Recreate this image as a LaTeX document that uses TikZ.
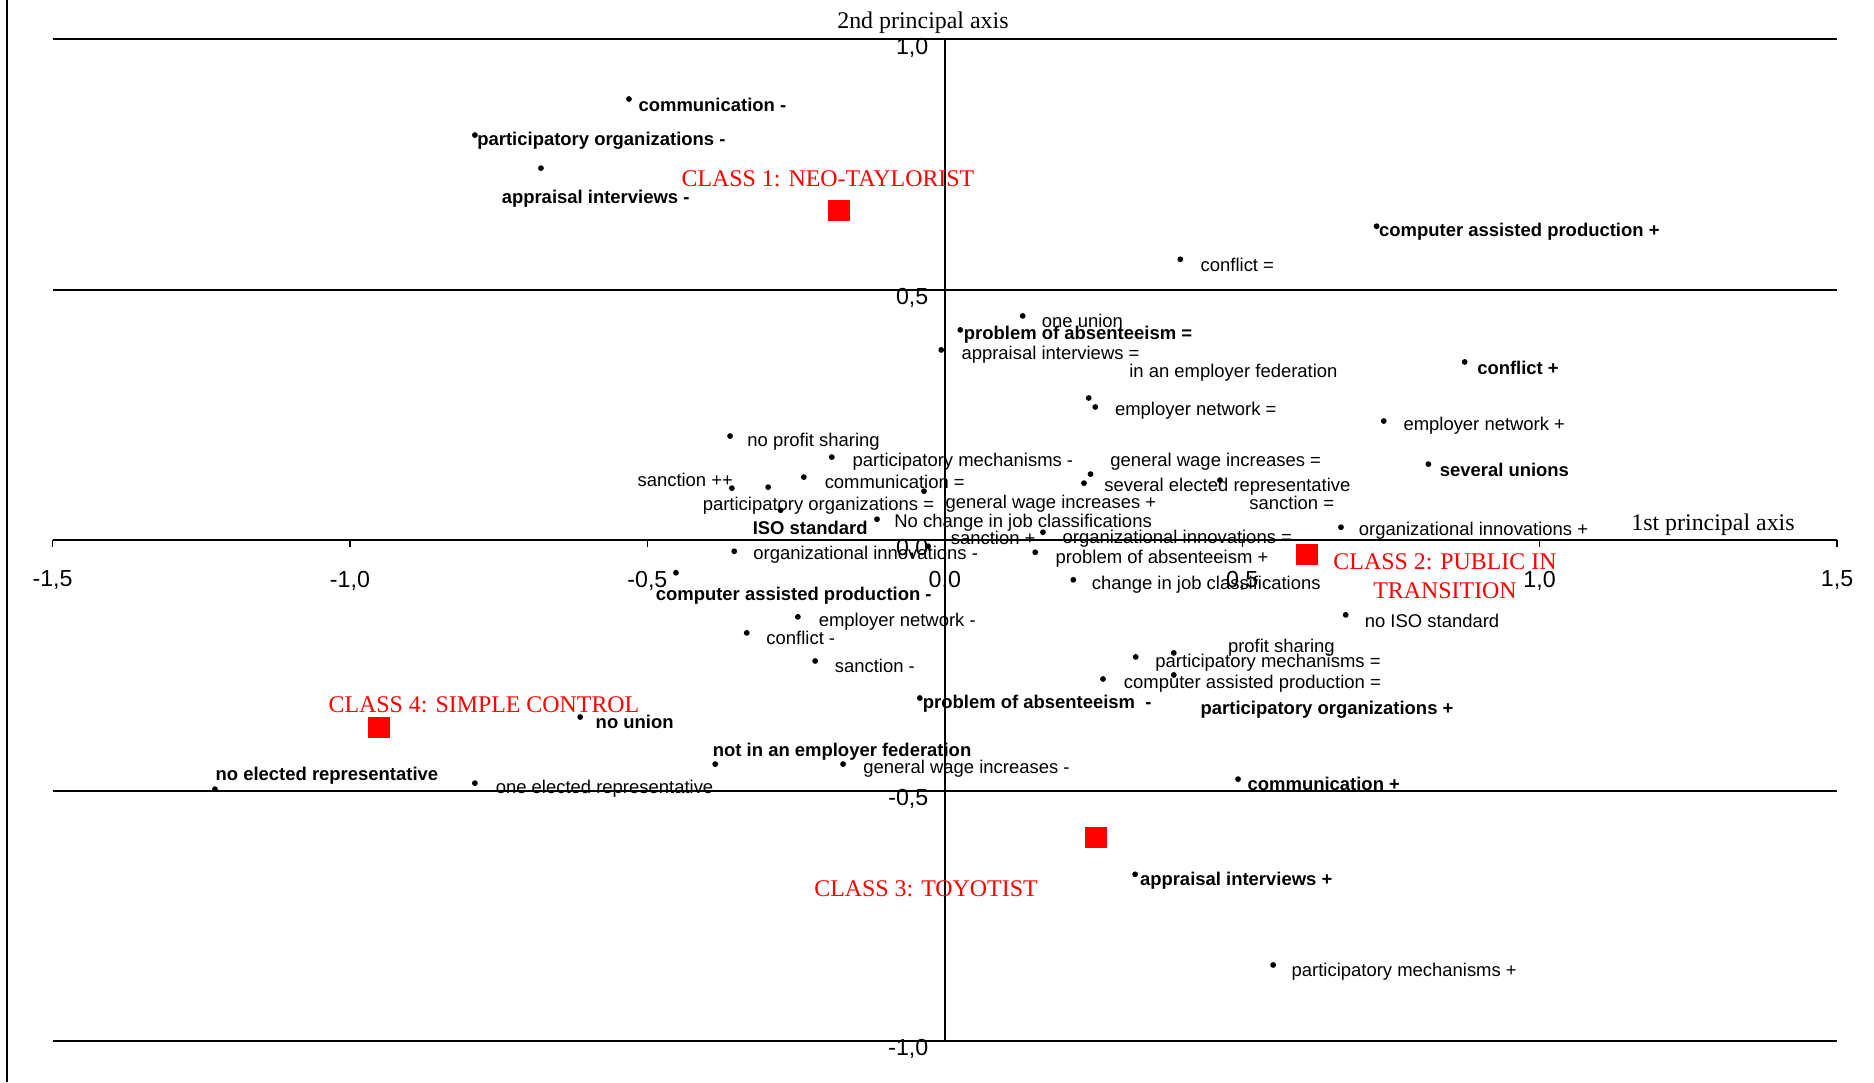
\documentclass[tikz,border=0pt]{standalone}
\usepackage{fontspec}
\setmainfont{Liberation Serif}
\setsansfont{Liberation Sans}
\usepackage{tikz}

\begin{document}
\begin{tikzpicture}[x=5.948cm, y=5.008cm,
    dot/.style={circle, fill=black, inner sep=0pt, minimum size=0.058cm},
    lbl/.style={anchor=west, inner sep=0pt, font=\sffamily\fontsize{5.25}{6.3}\selectfont},
    blbl/.style={lbl, font=\sffamily\bfseries\fontsize{5.25}{6.3}\selectfont},
    num/.style={inner sep=0pt, font=\sffamily\fontsize{6.6}{7.8}\selectfont},
    classbox/.style={fill=red, inner sep=0pt, minimum width=0.22cm, minimum height=0.21cm},
    classlbl/.style={text=red, inner sep=0pt, align=center, font=\fontsize{6.8}{8.2}\selectfont},
    axtitle/.style={inner sep=0pt, font=\fontsize{6.8}{8.2}\selectfont},
    gridline/.style={line width=0.6pt}]
        \useasboundingbox (-1.5884,-1.0819) rectangle (1.5622,1.0787);

        % Frame and grid
        \draw[gridline] (-1.577,-1.0819) -- (-1.577,1.0787);
        \foreach \y in {-1,-0.5,0,0.5,1}
            \draw[gridline] (-1.5,\y) -- (1.5,\y);
        \draw[line width=0.4pt] (0,-1) -- (0,1);

        % Ticks and values
        \foreach \x/\t in {-1.5/{-1,5}, -1/{-1,0}, -0.5/{-0,5}, 0/{0,0}, 0.5/{0,5}, 1/{1,0}, 1.5/{1,5}} {
            \draw[line width=0.4pt] (\x,0) -- (\x,-0.014);
            \node[num, anchor=north] at (\x,-0.06) {\t};
        }
        \foreach \y/\t in {1/{1,0}, 0.5/{0,5}, 0/{0,0}, -0.5/{-0,5}, -1/{-1,0}} {
            \draw[line width=0.4pt] (0,\y) -- (-0.012,\y);
            \node[num, anchor=north east] at (-0.0266,\y+0.004) {\t};
        }

        % Axis titles
        \node[axtitle] (ax2) at (-0.0367,1.034) {2nd principal axis};
        \node[axtitle] (ax1) at (1.2915,0.0315) {1st principal axis};

        % Upper half
        \node[dot] (commM) at (-0.531,0.881) {};   \node[blbl] (commMt) at (-0.516,0.869) {communication -};
        \node[dot] (porgM) at (-0.790,0.809) {};   \node[blbl] (porgMt) at (-0.787,0.797) {participatory organizations -};
        \node[dot] (apprM) at (-0.679,0.743) {};   \node[blbl] (apprMt) at (-0.746,0.681) {appraisal interviews -};
        \node[dot] (capP) at (0.726,0.627) {};     \node[blbl] (capPt) at (0.729,0.617) {computer assisted production +};
        \node[dot] (confE) at (0.396,0.561) {};    \node[lbl] (confEt) at (0.429,0.550) {conflict =};
        \node[dot] (oneU) at (0.131,0.448) {};     \node[lbl] (oneUt) at (0.162,0.438) {one union};
        \node[dot] (absE) at (0.026,0.420) {};     \node[blbl] (absEt) at (0.031,0.410) {problem of absenteeism =};
        \node[dot] (apprE) at (-0.006,0.380) {};   \node[lbl] (apprEt) at (0.027,0.370) {appraisal interviews =};
        \node[dot] (fedIn) at (0.242,0.284) {};    \node[lbl] (fedInt) at (0.309,0.334) {in an employer federation};
        \node[dot] (netE) at (0.253,0.266) {};     \node[lbl] (netEt) at (0.285,0.258) {employer network =};
        \node[dot] (confP) at (0.874,0.356) {};    \node[blbl] (confPt) at (0.894,0.344) {conflict +};
        \node[dot] (netP) at (0.738,0.238) {};     \node[lbl] (netPt) at (0.770,0.228) {employer network +};
        \node[dot] (sevU) at (0.813,0.152) {};     \node[blbl] (sevUt) at (0.831,0.140) {several unions};
        \node[dot] (wageE) at (0.245,0.132) {};    \node[lbl] (wageEt) at (0.277,0.156) {general wage increases =};
        \node[dot] (elecS) at (0.234,0.114) {};    \node[lbl] (elecSt) at (0.267,0.106) {several elected representative};
        \node[dot] (sancE) at (0.4625,0.120) {};   \node[lbl] (sancEt) at (0.511,0.074) {sanction =};
        \node[dot] (profN) at (-0.361,0.208) {};   \node[lbl] (profNt) at (-0.333,0.196) {no profit sharing};
        \node[dot] (mechM) at (-0.190,0.166) {};   \node[lbl] (mechMt) at (-0.156,0.156) {participatory mechanisms -};
        \node[dot] (sancPP) at (-0.358,0.104) {};  \node[lbl, anchor=east] (sancPPt) at (-0.355,0.120) {sanction ++};
        \node[dot] (commE) at (-0.237,0.126) {};   \node[lbl] (commEt) at (-0.203,0.116) {communication =};
        \node[dot] (porgE) at (-0.297,0.106) {};   \node[lbl] (porgEt) at (-0.408,0.068) {participatory organizations =};
        \node[dot] (iso) at (-0.276,0.060) {};     \node[blbl] (isot) at (-0.324,0.024) {ISO standard};
        \node[dot] (chgN) at (-0.114,0.042) {};    \node[lbl] (chgNt) at (-0.086,0.034) {No change in job classifications};
        \node[dot] (wageP) at (-0.035,0.098) {};   \node[lbl] (wagePt) at (0.000,0.072) {general wage increases +};
        \node[dot] (sancP) at (-0.028,-0.012) {};  \node[lbl] (sancPt) at (0.009,0.004) {sanction +};
        \node[dot] (orgiE) at (0.165,0.016) {};    \node[lbl] (orgiEt) at (0.197,0.004) {organizational innovations =};
        \node[dot] (orgiP) at (0.666,0.026) {};    \node[lbl] (orgiPt) at (0.695,0.018) {organizational innovations +};

        % Lower half
        \node[dot] (orgiM) at (-0.354,-0.022) {};  \node[lbl] (orgiMt) at (-0.323,-0.028) {organizational innovations -};
        \node[dot] (absP) at (0.152,-0.024) {};    \node[lbl] (absPt) at (0.185,-0.036) {problem of absenteeism +};
        \node[dot] (chg) at (0.216,-0.079) {};     \node[lbl] (chgt) at (0.246,-0.089) {change in job classifications};
        \node[dot] (capM) at (-0.452,-0.065) {};   \node[blbl] (capMt) at (-0.487,-0.111) {computer assisted production -};
        \node[dot] (netM) at (-0.247,-0.153) {};   \node[lbl] (netMt) at (-0.213,-0.163) {employer network -};
        \node[dot] (confM) at (-0.333,-0.185) {};  \node[lbl] (confMt) at (-0.301,-0.195) {conflict -};
        \node[dot] (sancM) at (-0.218,-0.241) {};  \node[lbl] (sancMt) at (-0.186,-0.251) {sanction -};
        \node[dot] (absM) at (-0.042,-0.315) {};   \node[blbl] (absMt) at (-0.038,-0.327) {problem of absenteeism\ \ -};
        \node[dot] (noU) at (-0.613,-0.353) {};    \node[blbl] (noUt) at (-0.588,-0.363) {no union};
        \node[dot] (fedNot) at (-0.386,-0.447) {}; \node[blbl] (fedNott) at (-0.391,-0.423) {not in an employer federation};
        \node[dot] (wageM) at (-0.171,-0.447) {};  \node[lbl] (wageMt) at (-0.138,-0.457) {general wage increases -};
        \node[dot] (elecNo) at (-1.227,-0.497) {}; \node[blbl] (elecNot) at (-1.227,-0.471) {no elected representative};
        \node[dot] (elecOne) at (-0.790,-0.485) {};\node[lbl] (elecOnet) at (-0.756,-0.497) {one elected representative};
        \node[dot] (isoN) at (0.674,-0.149) {};    \node[lbl] (isoNt) at (0.705,-0.161) {no ISO standard};
        \node[dot] (mechE) at (0.321,-0.233) {};   \node[lbl] (mechEt) at (0.353,-0.245) {participatory mechanisms =};
        \node[dot] (prof) at (0.385,-0.225) {};    \node[lbl] (proft) at (0.475,-0.215) {profit sharing};
        \node[dot] (porgP) at (0.385,-0.269) {};   \node[blbl] (porgPt) at (0.429,-0.339) {participatory organizations +};
        \node[dot] (capE) at (0.266,-0.277) {};    \node[lbl] (capEt) at (0.300,-0.287) {computer assisted production =};
        \node[dot] (commP) at (0.493,-0.477) {};   \node[blbl] (commPt) at (0.508,-0.487) {communication +};
        \node[dot] (apprP) at (0.320,-0.667) {};   \node[blbl] (apprPt) at (0.327,-0.679) {appraisal interviews +};
        \node[dot] (mechP) at (0.552,-0.848) {};   \node[lbl] (mechPt) at (0.582,-0.862) {participatory mechanisms +};

        % Classes
        \node[classbox] (c1) at (-0.1779,0.6583) {};
        \node[classbox] (c2) at (0.6090,-0.0286) {};
        \node[classbox] (c3) at (0.2542,-0.5937) {};
        \node[classbox] (c4) at (-0.9512,-0.3740) {};
        \node[classlbl] (c1t) at (-0.1964,0.7212) {CLASS 1: NEO-TAYLORIST};
        \node[classlbl] (c2t) at (0.841,-0.0725) {CLASS 2: PUBLIC IN\\TRANSITION};
        \node[classlbl] (c3t) at (-0.0316,-0.6968) {CLASS 3: TOYOTIST};
        \node[classlbl] (c4t) at (-0.7747,-0.3283) {CLASS 4: SIMPLE CONTROL};
\end{tikzpicture}
\end{document}
